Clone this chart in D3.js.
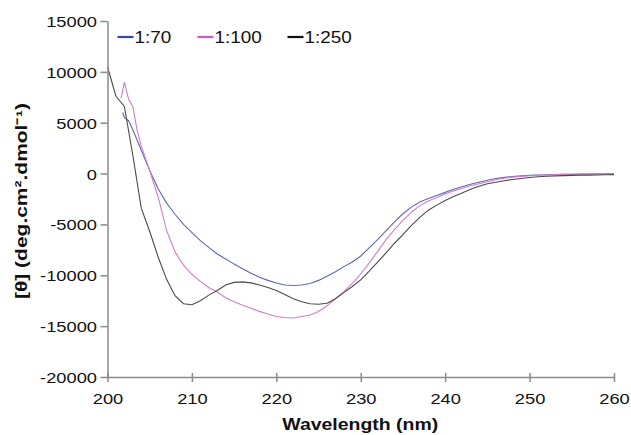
<!DOCTYPE html>
<html>
<head>
<meta charset="utf-8">
<script src="https://cdn.jsdelivr.net/npm/d3@7"></script>
<style>
  body { margin: 0; background: #fff; }
  text { font-family: "Liberation Sans", Arial, sans-serif; fill: #111; }
  .axis path, .axis line { stroke: #8a8a8a; stroke-width: 1.5; }
  .line { fill: none; stroke-width: 1.1; }
</style>
</head>
<body>
<script>
// Series: wavelength (nm) and ellipticity values
var wl70 = [201.8, 202, 202.5, 203, 204, 205, 206, 207, 208, 209, 210, 211, 212, 213, 214, 215, 216, 217, 218, 219, 220,
  221, 222, 223, 224, 225, 226, 227, 228, 229, 230, 231, 232, 233, 234, 235, 236, 237, 238, 239, 240,
  241, 242, 243, 244, 245, 246, 247, 248, 249, 250, 251, 252, 253, 254, 255, 256, 257, 258, 259, 260];
var cd70 = [6000, 5500, 5200, 4300, 2300, 300, -1500, -2900, -4000, -5000, -5800, -6600, -7250, -7900, -8400, -8900, -9350, -9800, -10200, -10500, -10750,
  -10950, -11000, -10950, -10800, -10500, -10100, -9650, -9150, -8700, -8100, -7300, -6500, -5600, -4750, -3950, -3300, -2800, -2450, -2150, -1850,
  -1550, -1300, -1050, -850, -650, -480, -370, -290, -230, -180, -140, -110, -90, -70, -60, -50, -40, -30, -20, -10];

var wl100 = [201.6, 202, 202.5, 203, 203.5, 204, 205, 206, 207, 208, 209, 210, 211, 212, 213, 214, 215, 216, 217, 218, 219, 220,
  221, 222, 223, 224, 225, 226, 227, 228, 229, 230, 231, 232, 233, 234, 235, 236, 237, 238, 239, 240,
  241, 242, 243, 244, 245, 246, 247, 248, 249, 250, 251, 252, 253, 254, 255, 256, 257, 258, 259, 260];
var cd100 = [7400, 9000, 7300, 6600, 4300, 2700, 300, -2300, -5600, -7700, -9000, -9900, -10600, -11200, -11650, -12200, -12600, -12950, -13250, -13550, -13800, -14050,
  -14150, -14200, -14050, -13900, -13550, -13000, -12300, -11600, -10800, -9850, -8800, -7650, -6500, -5500, -4600, -3800, -3150, -2700, -2350, -2000,
  -1700, -1450, -1200, -1000, -800, -600, -450, -350, -280, -220, -170, -130, -100, -80, -60, -50, -40, -30, -20, -10];

var wl250 = [200, 201, 202, 203, 204, 205, 206, 207, 208, 209, 210, 211, 212, 213, 214, 215, 216, 217, 218, 219, 220,
  221, 222, 223, 224, 225, 226, 227, 228, 229, 230, 231, 232, 233, 234, 235, 236, 237, 238, 239, 240,
  241, 242, 243, 244, 245, 246, 247, 248, 249, 250, 251, 252, 253, 254, 255, 256, 257, 258, 259, 260];
var cd250 = [10500, 7600, 6600, 1800, -3400, -5700, -8200, -10400, -12000, -12800, -12900, -12500, -11950, -11500, -10950, -10700, -10650, -10750, -10950, -11200, -11500,
  -11900, -12300, -12600, -12800, -12850, -12750, -12300, -11700, -11100, -10450, -9600, -8700, -7800, -6850, -6000, -5100, -4300, -3600, -3100, -2650,
  -2250, -1900, -1550, -1250, -1000, -850, -700, -580, -480, -380, -320, -270, -230, -200, -180, -160, -150, -140, -120, -100];

var seriesNames = ["1:70", "1:100", "1:250"];
var lineColors = ["#5a68bc", "#d47cc6", "#4a4a4a"];
var legendColors = ["#3646a6", "#c65abf", "#111111"];
var xTicks = [200, 210, 220, 230, 240, 250, 260];
var yTicks = [-20000, -15000, -10000, -5000, 0, 5000, 10000, 15000];

var margin = { top: 21, right: 17, bottom: 58, left: 107.5 },
  width = 631 - margin.left - margin.right,
  height = 435 - margin.top - margin.bottom;

var x = d3.scaleLinear().domain([200, 260]).range([0, width]);
var y = d3.scaleLinear().domain([-20000, 15000]).range([height, 0]);

var svg = d3.select("body").append("svg")
  .attr("width", 631).attr("height", 435)
  .append("g")
  .attr("transform", "translate(" + margin.left + "," + margin.top + ")");

var series = [
  { name: seriesNames[0], wl: wl70, cd: cd70 },
  { name: seriesNames[1], wl: wl100, cd: cd100 },
  { name: seriesNames[2], wl: wl250, cd: cd250 }
];

var line = d3.line()
  .x(function (d) { return x(d[0]); })
  .y(function (d) { return y(d[1]); });

// draw the curves (black last so it sits on top like the original)
series.forEach(function (s, i) {
  svg.append("path")
    .attr("class", "line")
    .attr("stroke", lineColors[i])
    .attr("d", line(d3.zip(s.wl, s.cd)));
});

// plain hyphen for negatives, as in the figure
var fmt = function (d) { return String(d); };

// Axes
var xAxis = svg.append("g")
  .attr("class", "axis")
  .attr("transform", "translate(0," + height + ")")
  .call(d3.axisBottom(x).tickValues(xTicks).tickSizeInner(5).tickSizeOuter(0).tickPadding(4).tickFormat(fmt));
xAxis.selectAll(".tick line").attr("y1", -4);

var yAxis = svg.append("g")
  .attr("class", "axis")
  .call(d3.axisLeft(y).tickValues(yTicks).tickSizeInner(7).tickSizeOuter(0).tickPadding(3).tickFormat(fmt));

// stretch tick labels a little, like the original figure
xAxis.selectAll(".tick text")
  .attr("font-size", 15.5)
  .attr("y", 0)
  .attr("dy", 0)
  .attr("transform", "translate(0,27) scale(1.18,1)");
yAxis.selectAll(".tick text")
  .attr("font-size", 15.5)
  .attr("x", 0)
  .attr("dy", "0.35em")
  .attr("transform", "translate(-10.5,0) scale(1.18,1)");
svg.selectAll(".axis .domain").attr("stroke", "#8a8a8a");

// Axis titles
svg.append("text")
  .attr("x", x(230) - 0.5)
  .attr("y", height + 53)
  .attr("text-anchor", "middle")
  .attr("font-weight", "bold")
  .attr("font-size", 16.5)
  .attr("textLength", 156)
  .attr("lengthAdjust", "spacingAndGlyphs")
  .text("Wavelength (nm)");

svg.append("text")
  .attr("transform", "translate(" + (27 - margin.left) + "," + (y(-2500) + 2) + ") rotate(-90)")
  .attr("text-anchor", "middle")
  .attr("font-weight", "bold")
  .attr("font-size", 16.5)
  .attr("textLength", 196)
  .attr("lengthAdjust", "spacingAndGlyphs")
  .text("[\u03B8] (deg.cm\u00B2.dmol\u207B\u00B9)");

// Legend
var legendX = [10, 90, 180];
var legend = svg.append("g").attr("transform", "translate(0,16)");
series.forEach(function (s, i) {
  legend.append("line")
    .attr("x1", legendX[i]).attr("x2", legendX[i] + 16)
    .attr("y1", 0).attr("y2", 0)
    .attr("stroke", legendColors[i])
    .attr("stroke-width", 2.2);
  legend.append("text")
    .attr("x", 0).attr("y", 0).attr("dy", "0.35em")
    .attr("font-size", 16)
    .attr("transform", "translate(" + (legendX[i] + 17) + ",0) scale(1.18,1)")
    .text(s.name);
});
</script>
</body>
</html>
